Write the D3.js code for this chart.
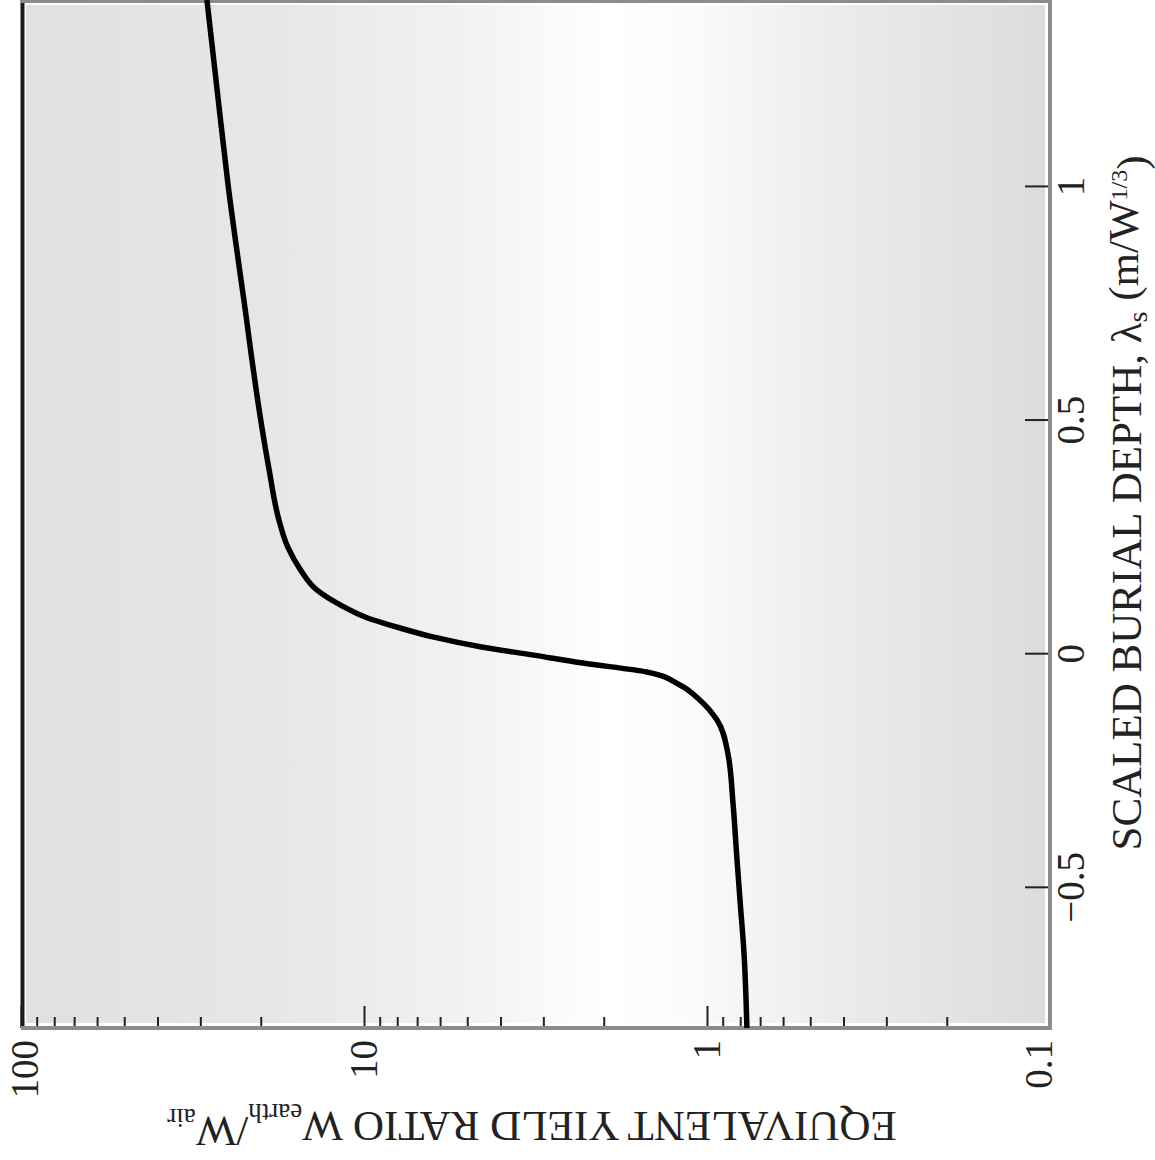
<!DOCTYPE html>
<meta charset="utf-8">
<style>
body { margin: 0; background: #fff; }
text { font-family: "Liberation Serif", "Times New Roman", serif; fill: #222; }
.curve { fill: none; stroke: #000; stroke-width: 5.5px; stroke-linejoin: round; }
.tick line { stroke: #222; stroke-width: 2px; }
</style>
<svg width="1155" height="1160"></svg>
<script src="https://d3js.org/d3.v7.min.js"></script>
<script>
// curve: scaled depth vs equivalent yield ratio
var depth = [-0.80, -0.64, -0.533, -0.426, -0.318, -0.211, -0.141, -0.098, -0.066, -0.038,
             -0.019, -0.002, 0.015, 0.037, 0.056, 0.078, 0.105, 0.137, 0.180, 0.230,
             0.287, 0.394, 0.501, 0.758, 1.004, 1.186, 1.40];
var ratio = [0.765, 0.78, 0.80, 0.82, 0.84, 0.87, 0.935, 1.05, 1.20, 1.50,
             2.3, 3.2, 4.5, 6.3, 7.85, 9.8, 11.7, 13.7, 15.3, 16.7,
             17.7, 18.9, 20.0, 22.4, 24.9, 26.6, 28.7];

var depthTicks = [-0.5, 0, 0.5, 1];
var ratioTicks = [0.1, 1, 10, 100];
var ratioMinor = [0.2, 0.3, 0.4, 0.5, 0.6, 0.7, 0.8, 0.9, 2, 3, 4, 5, 6, 7, 8, 9,
                  20, 30, 40, 50, 60, 70, 80, 90];

var svg = d3.select("svg"),
    W = +svg.attr("width"),
    H = +svg.attr("height");

// the whole figure is turned a quarter turn counter-clockwise,
// so we draw it upright in a (H x W) frame and rotate the group
var fw = H, fh = W;
var margin = {top: 21, right: 0, bottom: 105, left: 132};

var g = svg.append("g").attr("transform", "translate(0," + H + ") rotate(-90)");

var x = d3.scaleLinear().domain([-0.8, 1.4]).range([margin.left, fw - margin.right]);
var y = d3.scaleLog().domain([0.1, 100]).range([fh - margin.bottom, margin.top]);

var x0 = x.range()[0], x1 = x.range()[1], y0 = y.range()[1], y1 = y.range()[0];

var defs = svg.append("defs");
var grad = defs.append("linearGradient")
    .attr("id", "bg").attr("x1", 0).attr("y1", 0).attr("x2", 0).attr("y2", 1);
[[0, "#e0e0e0"], [0.25, "#e7e7e7"], [0.45, "#f3f3f3"], [0.57, "#ffffff"],
 [0.65, "#fbfbfb"], [0.8, "#ebebeb"], [1, "#dcdcdc"]].forEach(function(s) {
  grad.append("stop").attr("offset", s[0]).attr("stop-color", s[1]);
});

defs.append("clipPath").attr("id", "clip")
  .append("rect").attr("x", x0).attr("y", y0).attr("width", x1 - x0).attr("height", y1 - y0);

g.append("rect")
    .attr("x", x0).attr("y", y0).attr("width", x1 - x0).attr("height", y1 - y0)
    .attr("fill", "#fff");
g.append("rect")
    .attr("x", x0 + 5).attr("y", y0 + 5).attr("width", x1 - x0 - 10).attr("height", y1 - y0 - 10)
    .attr("fill", "url(#bg)");

// depth axis (drawn at the bottom of the upright frame)
g.append("g")
    .attr("transform", "translate(0," + y1 + ")")
    .call(d3.axisBottom(x).tickValues(depthTicks).tickFormat(d3.format("~g"))
      .tickSize(-25).tickPadding(6))
    .call(function(a) { a.select(".domain").remove(); })
    .selectAll("text").style("font-size", "39px");

// log ratio axis
g.append("g")
    .attr("transform", "translate(" + x0 + ",0)")
    .call(d3.axisLeft(y).tickValues(ratioMinor).tickFormat("").tickSize(-11))
    .call(function(a) { a.select(".domain").remove(); });

var ya = g.append("g")
    .attr("transform", "translate(" + x0 + ",0)")
    .call(d3.axisLeft(y).tickValues(ratioTicks).tickFormat(d3.format("~g"))
      .tickSize(-22).tickPadding(12))
    .call(function(a) { a.select(".domain").remove(); });
ya.selectAll("text").style("font-size", "39px")
    .attr("dy", function(d) { return d === 100 ? "0.42em" : d === 0.1 ? "0.04em" : "0.32em"; });

// frame
g.append("line").attr("x1", x0).attr("x2", x1).attr("y1", y0 + 1.5).attr("y2", y0 + 1.5)
    .attr("stroke", "#1a1a1a").attr("stroke-width", 4);
g.append("line").attr("x1", x0).attr("x2", x1).attr("y1", y1).attr("y2", y1)
    .attr("stroke", "#8c8c8c").attr("stroke-width", 4);
g.append("line").attr("x1", x0).attr("x2", x0).attr("y1", y0).attr("y2", y1 + 2)
    .attr("stroke", "#8c8c8c").attr("stroke-width", 4);
g.append("line").attr("x1", x1 - 1.5).attr("x2", x1 - 1.5).attr("y1", y0).attr("y2", y1)
    .attr("stroke", "#8c8c8c").attr("stroke-width", 3);

var line = d3.line()
    .x(function(i) { return x(depth[i]); })
    .y(function(i) { return y(ratio[i]); })
    .curve(d3.curveMonotoneX);

g.append("path")
    .attr("class", "curve")
    .attr("clip-path", "url(#clip)")
    .attr("d", line(d3.range(depth.length)));

// axis titles
var xt = g.append("text")
    .attr("x", 657).attr("y", 1141)
    .attr("text-anchor", "middle")
    .style("font-size", "43px");
xt.append("tspan").text("SCALED BURIAL DEPTH, λ");
xt.append("tspan").attr("dy", "0.22em").style("font-size", "28px").text("s");
xt.append("tspan").attr("dy", "-0.22em").text(" (m/W");
xt.append("tspan").attr("dy", "-0.45em").style("font-size", "24px").text("1/3");
xt.append("tspan").attr("dy", "0.45em").text(")");

var yt = g.append("text")
    .attr("transform", "translate(48,532) rotate(-90)")
    .attr("text-anchor", "middle")
    .style("font-size", "43px");
yt.append("tspan").text("EQUIVALENT YIELD RATIO W");
yt.append("tspan").attr("dy", "0.3em").style("font-size", "27px").text("earth");
yt.append("tspan").attr("dy", "-0.3em").text("/W");
yt.append("tspan").attr("dy", "0.3em").style("font-size", "27px").text("air");
</script>
